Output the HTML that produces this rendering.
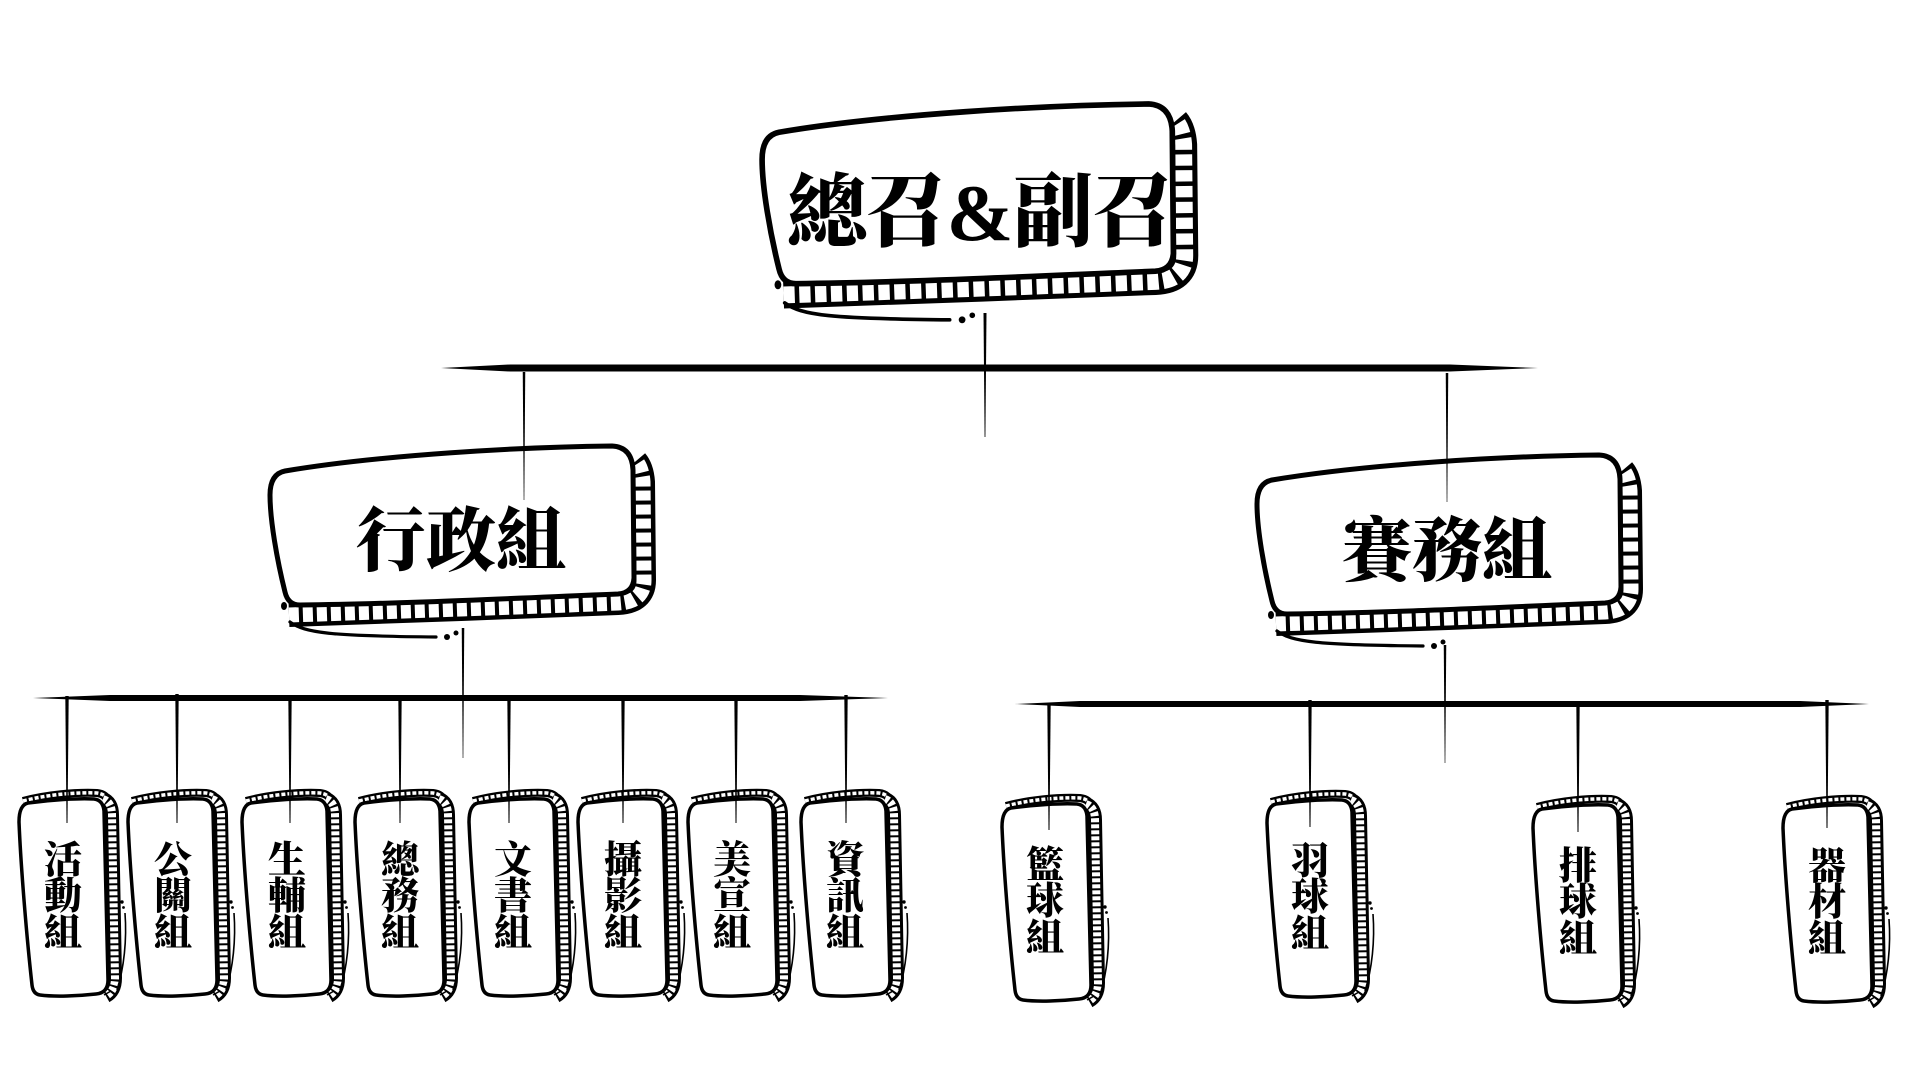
<!DOCTYPE html>
<html>
<head>
<meta charset="utf-8">
<style>
html,body{margin:0;padding:0;background:#fff;overflow:hidden;}
svg{display:block;}
.t{font-family:"Liberation Serif","Noto Serif CJK SC","Noto Serif CJK TC",serif;font-weight:900;fill:#000;}
</style>
</head>
<body>
<svg width="1920" height="1080" viewBox="0 0 1920 1080" xmlns="http://www.w3.org/2000/svg">
<defs>
  <g id="bb">
    <path d="M 289,615 C 380,612 520,607 618,603 Q 644,602 644,580 L 643,482 Q 642,468 636,461" fill="none" stroke="#000" stroke-width="24"/>
    <path d="M 289,615 C 380,612 520,607 618,603 Q 644,602 644,580 L 643,482 Q 642,468 636,461" fill="none" stroke="#fff" stroke-width="15" stroke-dasharray="10 4"/>
    <path d="M 285,471 C 380,455 520,447 612,446 Q 632,447 633,470 L 634,578 Q 633,593 618,594 C 520,598 400,604 300,605 Q 288,605 285,592 C 277,560 270,520 270,495 Q 270,474 285,471 Z" fill="#fff" stroke="#000" stroke-width="5"/>
    <ellipse cx="284" cy="606" rx="3" ry="4"/>
    <path d="M 290,622 C 305,633 330,636 436,637" fill="none" stroke="#000" stroke-width="3.2" stroke-linecap="round"/>
    <circle cx="447" cy="637" r="3"/>
    <circle cx="456" cy="633" r="2.5"/>
  </g>
  <g id="sb">
    <path d="M 23,801 C 45,795 75,792 97,793 Q 106,794 108,801" fill="none" stroke="#000" stroke-width="8"/>
    <path d="M 23,801 C 45,795 75,792 97,793 Q 106,794 108,801" fill="none" stroke="#fff" stroke-width="3.5" stroke-dasharray="4 2"/>
    <path d="M 103,799 Q 112,802 112,815 L 115,978 Q 115,991 106,996" fill="none" stroke="#000" stroke-width="14"/>
    <path d="M 103,799 Q 112,802 112,815 L 115,978 Q 115,991 106,996" fill="none" stroke="#fff" stroke-width="8" stroke-dasharray="4 2"/>
    <path d="M 28,803 C 50,800 78,798 94,799 Q 103,800 104,811 L 108,980 Q 108,993 96,994 C 78,996 55,997 40,995 Q 33,994 32,985 C 27,940 21,870 19,822 Q 19,805 28,803 Z" fill="#fff" stroke="#000" stroke-width="3.5"/>
    <circle cx="122" cy="902" r="1.7"/>
    <circle cx="123.5" cy="907.5" r="1.4"/>
    <path d="M 125,913 C 127,940 124,968 117,990" fill="none" stroke="#000" stroke-width="1.6"/>
    <path d="M 104,995 L 111,991" fill="none" stroke="#000" stroke-width="1.5"/>
  </g>
</defs>

<rect width="1920" height="1080" fill="#fff"/>

<!-- horizontal lines -->
<polygon points="441,368 510,364.5 1450,364.5 1538,368 1450,371.5 510,371.5" fill="#000"/>
<polygon points="33,698 110,695 800,695 888,698 800,701 110,701" fill="#000"/>
<polygon points="1015,704 1080,701 1800,701 1869,704 1800,707 1080,707" fill="#000"/>

<!-- big boxes -->
<use href="#bb"/>
<use href="#bb" transform="translate(987,9)"/>
<use href="#bb" transform="translate(457,-400) scale(1.13)"/>

<!-- small boxes left group -->
<use href="#sb"/>
<use href="#sb" transform="translate(109,0)"/>
<use href="#sb" transform="translate(223,0)"/>
<use href="#sb" transform="translate(336,0)"/>
<use href="#sb" transform="translate(450,0)"/>
<use href="#sb" transform="translate(559,0)"/>
<use href="#sb" transform="translate(669,0)"/>
<use href="#sb" transform="translate(782,0)"/>
<!-- small boxes right group -->
<use href="#sb" transform="translate(983,5)"/>
<use href="#sb" transform="translate(1248,1)"/>
<use href="#sb" transform="translate(1514,6)"/>
<use href="#sb" transform="translate(1764,6)"/>

<!-- connectors -->
<g fill="#000">
  <polygon points="983.5,313 986.5,313 985.4,437 984.6,437"/>
  <polygon points="522.75,372 525.25,372 524.3,500 523.7,500"/>
  <polygon points="1445.75,373 1448.25,373 1447.3,502 1446.7,502"/>
  <polygon points="461.75,628 464.25,628 463.3,758 462.7,758"/>
  <polygon points="1443.75,645 1446.25,645 1445.3,763 1444.7,763"/>

  <polygon points="65.3,696 68.7,696 67.5,823 66.5,823"/>
  <polygon points="175.3,694 178.7,694 177.5,823 176.5,823"/>
  <polygon points="288.3,696 291.7,696 290.5,823 289.5,823"/>
  <polygon points="398.3,696 401.7,696 400.5,823 399.5,823"/>
  <polygon points="507.3,696 510.7,696 509.5,823 508.5,823"/>
  <polygon points="621.3,696 624.7,696 623.5,823 622.5,823"/>
  <polygon points="734.3,696 737.7,696 736.5,823 735.5,823"/>
  <polygon points="844.3,695 847.7,695 846.5,823 845.5,823"/>

  <polygon points="1047.3,703 1050.7,703 1049.5,830 1048.5,830"/>
  <polygon points="1308.3,700 1311.7,700 1310.5,827 1309.5,827"/>
  <polygon points="1576.3,703 1579.7,703 1578.5,832 1577.5,832"/>
  <polygon points="1825.3,700 1828.7,700 1827.5,828 1826.5,828"/>
</g>

<!-- big texts -->
<text class="t" x="980" y="240" font-size="80" text-anchor="middle">總召&amp;副召</text>
<text class="t" x="461" y="565" font-size="70" text-anchor="middle">行政組</text>
<text class="t" x="1447" y="575" font-size="70" text-anchor="middle">賽務組</text>

<!-- small texts -->
<g class="t" font-size="38" text-anchor="middle">
  <text><tspan x="63" y="873">活</tspan><tspan x="63" y="909">動</tspan><tspan x="63" y="946">組</tspan></text>
  <text><tspan x="173" y="873">公</tspan><tspan x="173" y="909">關</tspan><tspan x="173" y="946">組</tspan></text>
  <text><tspan x="287" y="873">生</tspan><tspan x="287" y="909">輔</tspan><tspan x="287" y="946">組</tspan></text>
  <text><tspan x="400" y="873">總</tspan><tspan x="400" y="909">務</tspan><tspan x="400" y="946">組</tspan></text>
  <text><tspan x="513" y="873">文</tspan><tspan x="513" y="909">書</tspan><tspan x="513" y="946">組</tspan></text>
  <text><tspan x="623" y="873">攝</tspan><tspan x="623" y="909">影</tspan><tspan x="623" y="946">組</tspan></text>
  <text><tspan x="732" y="873">美</tspan><tspan x="732" y="909">宣</tspan><tspan x="732" y="946">組</tspan></text>
  <text><tspan x="845" y="873">資</tspan><tspan x="845" y="909">訊</tspan><tspan x="845" y="946">組</tspan></text>

  <text><tspan x="1045" y="878">籃</tspan><tspan x="1045" y="914">球</tspan><tspan x="1045" y="951">組</tspan></text>
  <text><tspan x="1310" y="874">羽</tspan><tspan x="1310" y="910">球</tspan><tspan x="1310" y="947">組</tspan></text>
  <text><tspan x="1578" y="879">排</tspan><tspan x="1578" y="915">球</tspan><tspan x="1578" y="952">組</tspan></text>
  <text><tspan x="1827" y="879">器</tspan><tspan x="1827" y="915">材</tspan><tspan x="1827" y="952">組</tspan></text>
</g>
</svg>
</body>
</html>
